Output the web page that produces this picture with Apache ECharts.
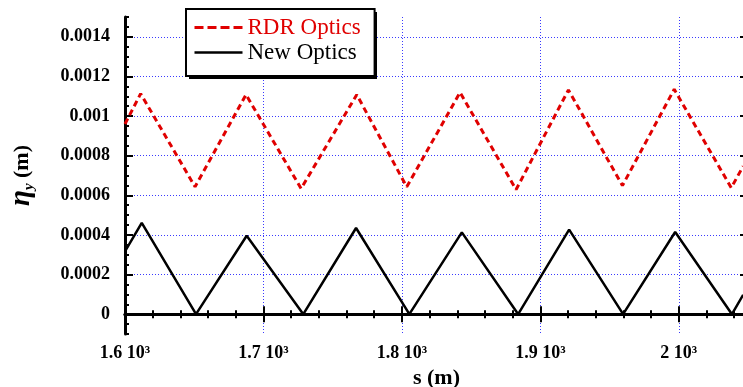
<!DOCTYPE html>
<html>
<head>
<meta charset="utf-8">
<script src="https://cdn.jsdelivr.net/npm/echarts@6/dist/echarts.min.js"></script>
<style>
  html, body { margin: 0; padding: 0; background: #fff; }
  #chart { width: 743px; height: 387px; }
</style>
</head>
<body>
<div id="chart"></div>
<script>
// RDR optics (red dashed)
const sRdr = [1600, 1611.3, 1650.6, 1687.4, 1727.2, 1767.4, 1803.5, 1842.0, 1882.5, 1920.3, 1959.3, 1996.7, 2037.9, 2046.5];
const etaRdr = [0.00096, 0.001113, 0.000643, 0.001108, 0.000634, 0.001108, 0.000643, 0.001119, 0.000629, 0.001132, 0.000649, 0.001135, 0.000638, 0.000747];

// New optics (black solid)
const sNew = [1600, 1612.1, 1651.3, 1687.9, 1728.8, 1766.9, 1805.4, 1843.3, 1884.0, 1920.8, 1959.8, 1997.4, 2038.4, 2046.5];
const etaNew = [0.000317, 0.000461, 0, 0.000396, 0, 0.000435, 0, 0.000413, 0, 0.000427, 0, 0.000415, 0, 0.0000977];

const yMajor = [0, 0.0002, 0.0004, 0.0006, 0.0008, 0.001, 0.0012, 0.0014];

const FONT = 'Liberation Serif';
const RED = '#e00000';
const GRIDLINE = { show: true, lineStyle: { color: '#3a3aff', width: 1, type: [1, 2] } };

const pairs = (xs, ys) => xs.map((x, i) => [x, ys[i]]);

const xBase = { type: 'value', min: 1600, max: 2050, gridIndex: 0 };
const yBase = { type: 'value', min: -0.0001, max: 0.0015, gridIndex: 0 };
const line3 = { show: true, lineStyle: { color: '#000', width: 3 } };

const chart = echarts.init(document.getElementById('chart'));
chart.setOption({
  animation: false,
  backgroundColor: '#fff',
  grid: { left: 125, top: 17, width: 623, height: 317, containLabel: false, outerBoundsMode: 'none' },
  // drop shadow behind the legend box
  graphic: [{
    type: 'rect', left: 189, top: 12, z: 9,
    shape: { width: 188, height: 67 },
    style: { fill: '#000' }
  }],
  legend: {
    orient: 'vertical',
    left: 186, top: 9,
    padding: [6, 14, 11, 7],
    itemGap: 0,
    itemWidth: 48, itemHeight: 14,
    backgroundColor: '#fff',
    borderColor: '#000', borderWidth: 2, borderRadius: 0,
    itemStyle: { color: 'rgba(0,0,0,0)', borderWidth: 0 },
    textStyle: { fontFamily: FONT, fontSize: 23, color: '#000', lineHeight: 25 },
    data: [
      { name: 'RDR Optics', textStyle: { color: RED }, lineStyle: { width: 3, type: [9, 4] } },
      { name: 'New Optics', lineStyle: { width: 2.5 } }
    ],
    z: 10
  },
  xAxis: [
    Object.assign({}, xBase, {
      position: 'bottom', interval: 100,
      axisLine: line3,
      axisTick: { inside: true, length: 8, lineStyle: { width: 2, color: '#000' } },
      axisLabel: {
        margin: 10, fontFamily: FONT, fontWeight: 'bold', fontSize: 18, color: '#000',
        formatter: v => (Math.abs(v % 100) < 1e-6 ? (v / 1000) + ' 10\u00b3' : '')
      },
      splitLine: GRIDLINE,
      name: 's (m)', nameLocation: 'middle', nameGap: 33,
      nameTextStyle: { fontFamily: FONT, fontWeight: 'bold', fontSize: 22, color: '#000' }
    }),
    Object.assign({}, xBase, {
      position: 'bottom', interval: 20,
      axisLine: { show: false },
      axisTick: { inside: true, length: 4, lineStyle: { width: 2, color: '#000' } },
      axisLabel: { show: false }, splitLine: { show: false }
    }),
    Object.assign({}, xBase, {
      position: 'top', interval: 100,
      axisLine: line3,
      axisTick: { inside: true, length: 8, lineStyle: { width: 2, color: '#000' } },
      axisLabel: { show: false }, splitLine: { show: false }
    }),
    Object.assign({}, xBase, {
      position: 'top', interval: 20,
      axisLine: { show: false },
      axisTick: { inside: true, length: 4, lineStyle: { width: 2, color: '#000' } },
      axisLabel: { show: false }, splitLine: { show: false }
    })
  ],
  yAxis: [
    Object.assign({}, yBase, {
      position: 'left',
      axisLine: line3,
      axisTick: { inside: true, length: 8, customValues: yMajor, lineStyle: { width: 2, color: '#000' } },
      axisLabel: {
        customValues: yMajor, margin: 15,
        fontFamily: FONT, fontWeight: 'bold', fontSize: 18, color: '#000',
        formatter: v => (v === 0 ? '0' : String(+v.toFixed(4)))
      },
      splitLine: GRIDLINE,
      name: '{e|\u03b7}{s|y}{m| (m)}', nameLocation: 'middle', nameGap: 88, nameRotate: 90,
      nameTextStyle: {
        rich: {
          e: { fontFamily: FONT, fontWeight: 'bold', fontStyle: 'italic', fontSize: 29, color: '#000', lineHeight: 30 },
          s: { fontFamily: FONT, fontWeight: 'bold', fontStyle: 'italic', fontSize: 15, color: '#000', lineHeight: 14, verticalAlign: 'bottom' },
          m: { fontFamily: FONT, fontWeight: 'bold', fontSize: 22, color: '#000', lineHeight: 30 }
        }
      }
    }),
    Object.assign({}, yBase, {
      position: 'left', interval: 0.00005,
      axisLine: { show: false },
      axisTick: { inside: true, length: 4, lineStyle: { width: 2, color: '#000' } },
      axisLabel: { show: false }, splitLine: { show: false }
    }),
    Object.assign({}, yBase, {
      position: 'right',
      axisLine: line3,
      axisTick: { inside: true, length: 8, customValues: yMajor, lineStyle: { width: 2, color: '#000' } },
      axisLabel: { show: false }, splitLine: { show: false }
    }),
    Object.assign({}, yBase, {
      position: 'right', interval: 0.00005,
      axisLine: { show: false },
      axisTick: { inside: true, length: 4, lineStyle: { width: 2, color: '#000' } },
      axisLabel: { show: false }, splitLine: { show: false }
    })
  ],
  series: [
    {
      name: 'RDR Optics', type: 'line', xAxisIndex: 0, yAxisIndex: 0,
      data: pairs(sRdr, etaRdr),
      showSymbol: false, symbol: 'none', clip: true, z: 3,
      lineStyle: { color: RED, width: 3, type: [6, 4] },
      itemStyle: { color: RED }
    },
    {
      name: 'New Optics', type: 'line', xAxisIndex: 0, yAxisIndex: 0,
      data: pairs(sNew, etaNew),
      showSymbol: false, symbol: 'none', clip: true, z: 3,
      lineStyle: { color: '#000', width: 2.5, type: 'solid' },
      itemStyle: { color: '#000' }
    }
  ]
});
</script>
</body>
</html>
